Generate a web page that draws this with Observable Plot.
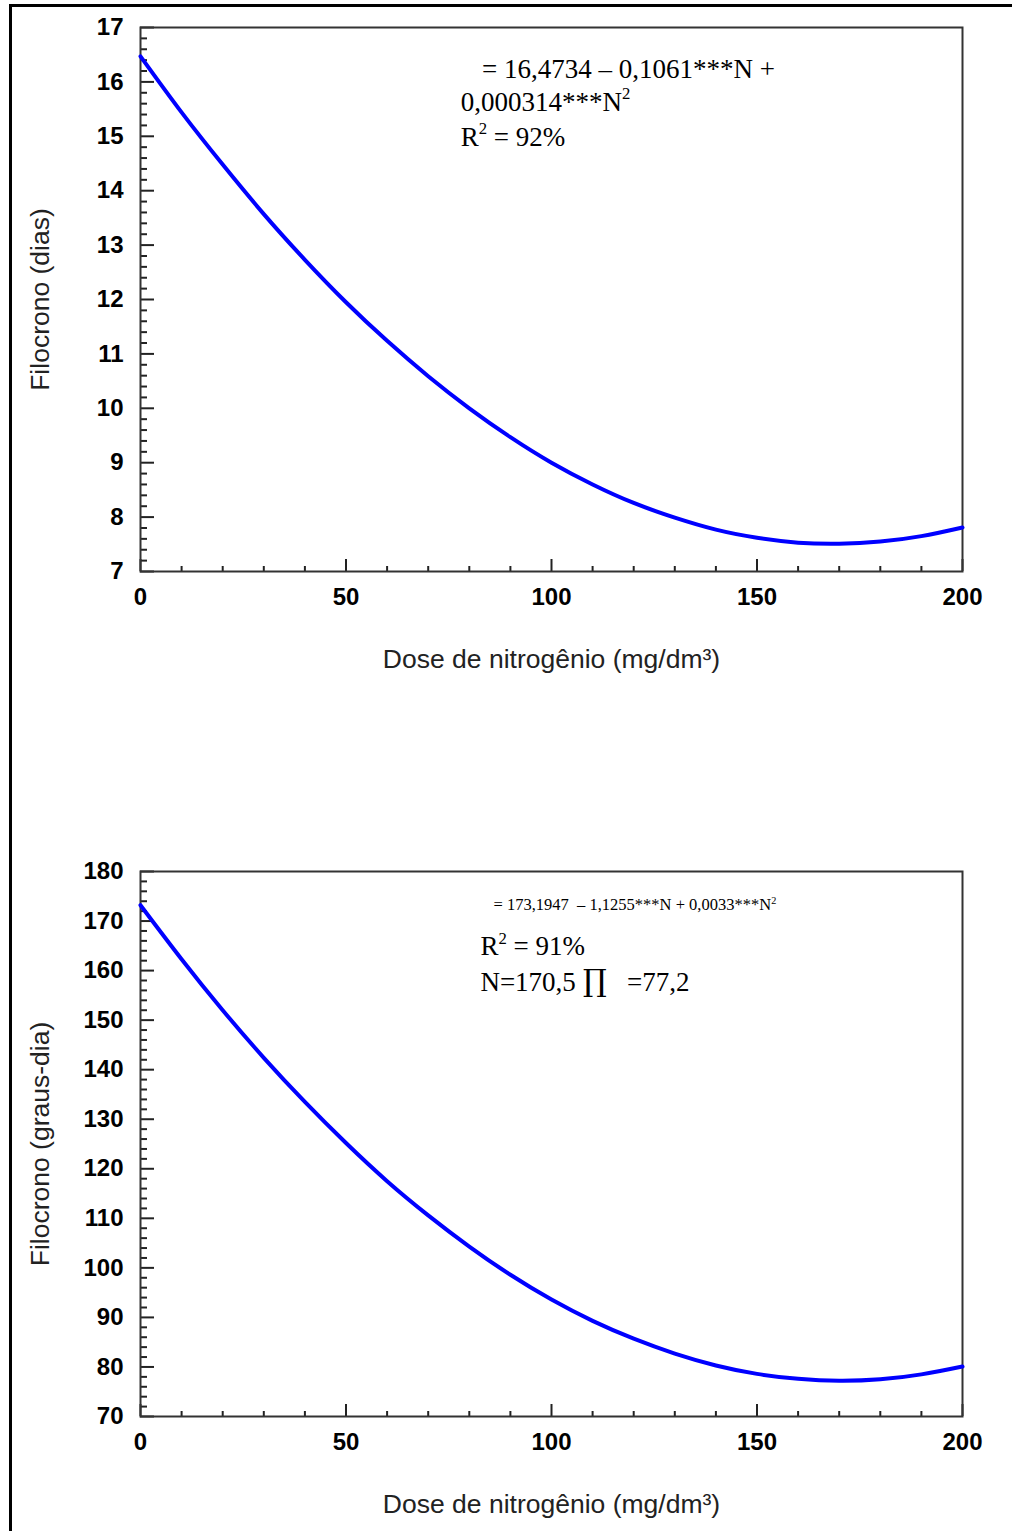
<!DOCTYPE html>
<html>
<head>
<meta charset="utf-8">
<script src="https://cdn.jsdelivr.net/npm/d3@7"></script>
<script src="https://cdn.jsdelivr.net/npm/@observablehq/plot@0.6"></script>
<style>
  body { margin: 0; background: #fff; }
  #wrap { position: relative; width: 1012px; height: 1531px; overflow: hidden; background: #fff; }
  #wrap svg { position: absolute; left: 0; }
  .bt { position: absolute; left: 9px; top: 4px; width: 1003px; height: 3px; background: #000; z-index: 5; }
  .bl { position: absolute; left: 9px; top: 4px; width: 3px; height: 1527px; background: #000; z-index: 5; }
</style>
</head>
<body>
<div id="wrap"><div class="bt"></div><div class="bl"></div></div>
<script>
// ---- data ----
const doses = [0, 10, 20, 30, 40, 50, 60, 70, 80, 90, 100, 110, 120, 130, 140, 150, 160, 170, 180, 190, 200];
const filocronoDias = [16.47, 15.44, 14.48, 13.57, 12.73, 11.95, 11.24, 10.59, 10.00, 9.47, 9.00, 8.60, 8.26, 7.99, 7.77, 7.62, 7.53, 7.51, 7.55, 7.65, 7.81];
const filocronoGraus = [173.2, 162.3, 152.0, 142.4, 133.5, 125.2, 117.5, 110.6, 104.3, 98.6, 93.6, 89.3, 85.7, 82.7, 80.3, 78.6, 77.6, 77.2, 77.5, 78.5, 80.1];

const xMajor = [0, 50, 100, 150, 200];
const xMinor = [10, 20, 30, 40, 60, 70, 80, 90, 110, 120, 130, 140, 160, 170, 180, 190];
const yMajorDias = [7, 8, 9, 10, 11, 12, 13, 14, 15, 16, 17];
const yMajorGraus = [70, 80, 90, 100, 110, 120, 130, 140, 150, 160, 170, 180];

const xTitle = "Dose de nitrogênio (mg/dm³)";
const yTitleDias = "Filocrono (dias)";
const yTitleGraus = "Filocrono (graus-dia)";

const eqDias = ["= 16,4734 – 0,1061***N +", "0,000314***N²", "R² = 92%"];
const eqGraus = ["= 173,1947 \u00a0– 1,1255***N + 0,0033***N²", "R² = 91%", "N=170,5\u00a0∏\u00a0\u00a0\u00a0=77,2"];

// ---- helpers ----
function minorTicks(lo, hi, step, majors) {
  const n = Math.round((hi - lo) / step);
  return d3.range(0, n + 1).map(i => +(lo + i * step).toFixed(4)).filter(v => !majors.includes(v));
}

function note(str, x, y, size) {
  return Plot.text([str], {
    x, y, text: d => d, textAnchor: "start", lineAnchor: "bottom", className: "eq",
    fontFamily: "Liberation Serif, Times New Roman, serif", fontSize: size, fill: "#000"
  });
}

function fontSizeOf(node) {
  for (let n = node; n && n.getAttribute; n = n.parentNode) {
    const v = n.getAttribute("font-size");
    if (v) return parseFloat(v);
  }
  return 27;
}

// turn "²" into a real raised superscript and enlarge the product sign
function typeset(svg) {
  d3.select(svg).selectAll(".eq text").each(function () {
    const el = d3.select(this);
    const fs = fontSizeOf(this);
    const str = el.text();
    el.text(null);
    const parts = str.split(/([²∏])/);
    let raised = false;
    for (const p of parts) {
      if (!p) continue;
      let t;
      if (p === "²") {
        el.append("tspan").attr("dy", -0.42 * fs).attr("font-size", 0.62 * fs).text("2");
        raised = true;
        continue;
      } else if (p === "∏") {
        t = el.append("tspan").attr("font-size", 1.12 * fs).attr("font-family", "DejaVu Serif, serif").text("∏");
      } else {
        t = el.append("tspan").text(p);
      }
      if (raised) { t.attr("dy", 0.42 * fs); raised = false; }
    }
  });
  return svg;
}

function chart({values, yDomain, yMajor, yMinor, yTitle, height, marginTop, marginBottom, notes}) {
  const data = doses.map((d, i) => ({dose: d, value: values[i]}));
  const tickStyle = {stroke: "#222", strokeWidth: 2, tickFormat: () => "", label: null};
  const labelStyle = {tickSize: 0, fontSize: 24, fontWeight: "bold", fill: "#000", label: null,
                      fontFamily: "Liberation Sans, Arial, sans-serif", tickFormat: d => String(d)};
  const titleStyle = {ticks: [], labelAnchor: "center", labelArrow: "none", fontSize: 26.5,
                      fill: "#222", fontFamily: "Liberation Sans, Arial, sans-serif"};
  return typeset(Plot.plot({
    width: 1012, height, marginTop, marginBottom, marginLeft: 140, marginRight: 50,
    style: {background: "transparent", color: "#111", overflow: "visible", fontFamily: "Liberation Sans, Arial, sans-serif"},
    x: {domain: [0, 200]},
    y: {domain: yDomain},
    marks: [
      Plot.axisX({ticks: xMinor, tickSize: -5, ...tickStyle}),
      Plot.axisX({ticks: xMajor, tickSize: -12, ...tickStyle}),
      Plot.axisY({ticks: yMinor, tickSize: -7, ...tickStyle}),
      Plot.axisY({ticks: yMajor, tickSize: -14, ...tickStyle}),
      Plot.axisX({ticks: xMajor, tickPadding: 16, ...labelStyle}),
      Plot.axisY({ticks: yMajor, tickPadding: 17, ...labelStyle}),
      Plot.axisX({label: xTitle, labelOffset: 96, ...titleStyle}),
      Plot.axisY({label: yTitle, labelOffset: 110, ...titleStyle}),
      Plot.frame({stroke: "#333", strokeWidth: 2}),
      Plot.line(data, {x: "dose", y: "value", stroke: "#0000ff", strokeWidth: 4, curve: "natural"}),
      ...notes
    ]
  }));
}

const wrap = document.getElementById("wrap");

const chartDias = chart({
  values: filocronoDias, yDomain: [7, 17], yMajor: yMajorDias,
  yMinor: minorTicks(7, 17, 0.2, yMajorDias), yTitle: yTitleDias,
  height: 765, marginTop: 27, marginBottom: 194,
  notes: [
    note(eqDias[0], 83.1, 16.08, 27),
    note(eqDias[1], 77.9, 15.47, 27),
    note(eqDias[2], 77.9, 14.83, 27)
  ]
});
chartDias.style.top = "0px";

const chartGraus = chart({
  values: filocronoGraus, yDomain: [70, 180], yMajor: yMajorGraus,
  yMinor: minorTicks(70, 180, 2, yMajorGraus), yTitle: yTitleGraus,
  height: 766, marginTop: 106, marginBottom: 115,
  notes: [
    note(eqGraus[0], 85.9, 172.13, 16.5),
    note(eqGraus[1], 82.7, 163.05, 27),
    note(eqGraus[2], 82.7, 155.98, 27)
  ]
});
chartGraus.style.top = "765px";

wrap.insertBefore(chartGraus, wrap.firstChild);
wrap.insertBefore(chartDias, wrap.firstChild);
</script>
</body>
</html>
